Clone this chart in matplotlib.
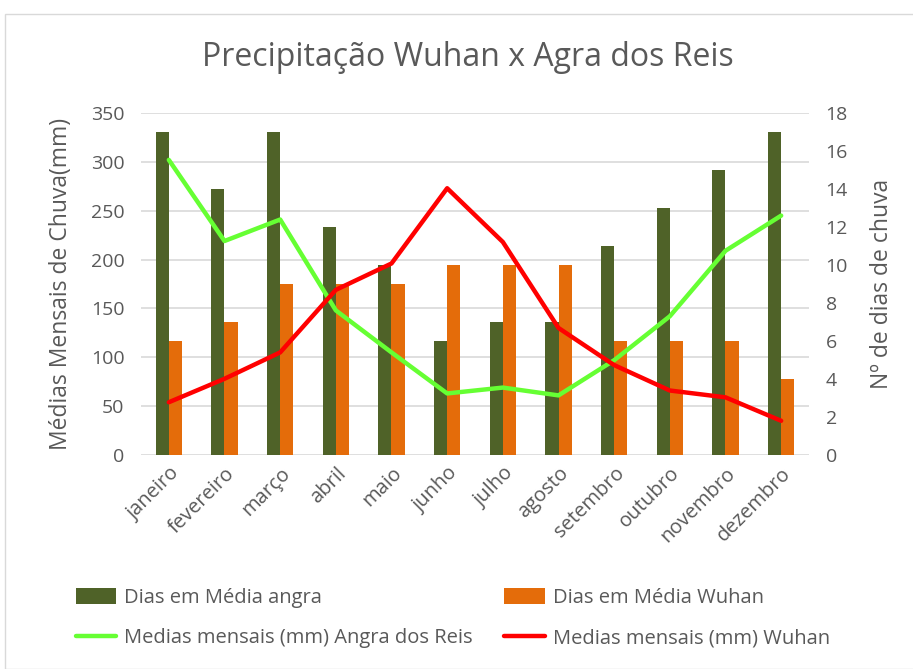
import numpy as np
import matplotlib
matplotlib.use("Agg")
import matplotlib.pyplot as plt
from matplotlib.patches import Rectangle

plt.rcParams['font.family'] = ['Open Sans', 'DejaVu Sans']

months = ["janeiro", "fevereiro", "março", "abril", "maio", "junho", "julho",
          "agosto", "setembro", "outubro", "novembro", "dezembro"]
dias_angra = [17, 14, 17, 12, 10, 6, 7, 7, 11, 13, 15, 17]
dias_wuhan = [6, 7, 9, 9, 9, 10, 10, 10, 6, 6, 6, 4]
mm_angra = [302, 219, 241, 148, 105, 63, 69, 61, 97, 142, 209, 245]
mm_wuhan = [54, 78, 105, 169, 196, 273, 218, 130, 92, 66, 59, 35]

GREY = "#595959"
GRID = "#d9d9d9"
C_BAR_A = "#4f6228"
C_BAR_W = "#e46c0a"
C_LINE_A = "#66ff33"
C_LINE_W = "#ff0000"

W, H = 913, 669
fig = plt.figure(figsize=(W / 100, H / 100), dpi=100, facecolor="white")
fig.patches.append(Rectangle((5 / W, 0), 1.2, 1 - 14 / H, transform=fig.transFigure,
                             fill=False, ec=GRID, lw=1.0))

rect = [141 / W, 1 - 455 / H, (809 - 141) / W, (455 - 113) / H]
ax = fig.add_axes(rect)          # grid + left ticks
ax2 = ax.twinx()                 # bars (days)
ax3 = ax.twinx()                 # lines (mm)

x = np.arange(len(months))
bw = 0.235
b1 = ax2.bar(x - bw / 2, dias_angra, bw, color=C_BAR_A, label="Dias em Média angra")
b2 = ax2.bar(x + bw / 2, dias_wuhan, bw, color=C_BAR_W, label="Dias em Média Wuhan")
l1, = ax3.plot(x, mm_angra, color=C_LINE_A, lw=3.2, solid_capstyle="round",
               label="Medias mensais (mm) Angra dos Reis")
l2, = ax3.plot(x, mm_wuhan, color=C_LINE_W, lw=3.2, solid_capstyle="round",
               label="Medias mensais (mm) Wuhan")

for a in (ax, ax2, ax3):
    a.set_xlim(-0.5, len(months) - 0.5)
    for s in a.spines.values():
        s.set_visible(False)
    a.tick_params(length=0, colors=GREY, labelsize=14)

ax.set_ylim(0, 350)
ax.set_yticks(range(0, 351, 50))
ax.grid(axis="y", color=GRID, lw=1.2)
ax.set_axisbelow(True)
ax.set_xticks(x)
ax.set_xticklabels(months, rotation=45, ha="right", rotation_mode="anchor", fontsize=14.5)
ax.tick_params(axis="x", pad=6)
ax.tick_params(axis="y", pad=12)
ax.set_ylabel("Médias Mensais de Chuva(mm)", color=GREY, fontsize=16.5, labelpad=13)

ax2.set_ylim(0, 18)
ax2.set_yticks(range(0, 19, 2))
ax2.tick_params(axis="y", pad=12)
ax2.set_ylabel("Nº de dias de chuva", color=GREY, fontsize=16.5, labelpad=16)

ax3.set_ylim(0, 350)
ax3.set_yticks([])

fig.text(468 / W, 1 - 57 / H, "Precipitação Wuhan x Agra dos Reis",
         ha="center", va="center", fontsize=23, color=GREY)

leg = fig.legend([b1, l1, b2, l2],
                 [b1.get_label(), l1.get_label(), b2.get_label(), l2.get_label()],
                 ncol=2, loc="center left", bbox_to_anchor=(58 / W, 1 - 618 / H),
                 frameon=False, fontsize=14.5, handlelength=2.0, handleheight=0.8,
                 handletextpad=0.4, columnspacing=1.55, labelspacing=1.0)
for t in leg.get_texts():
    t.set_color(GREY)

fig.savefig("out.png", dpi=100, facecolor="white")
